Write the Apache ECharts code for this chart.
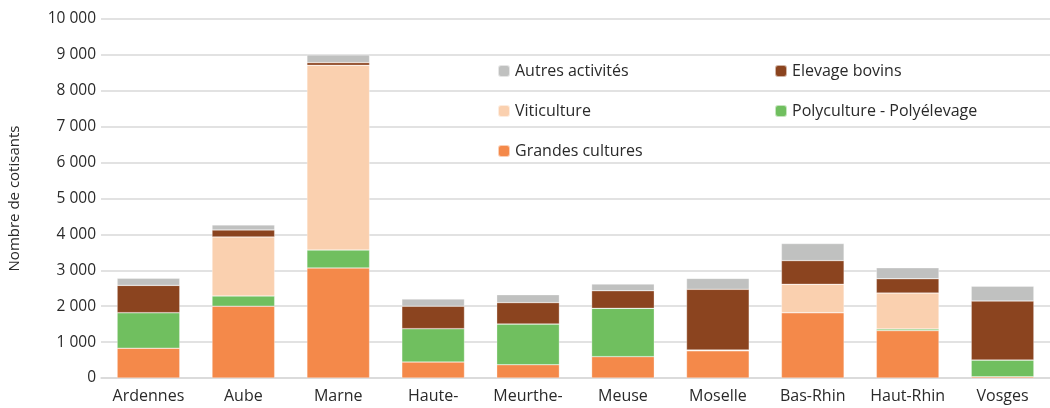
<!DOCTYPE html>
<html>
<head>
<meta charset="utf-8">
<script src="https://cdn.jsdelivr.net/npm/echarts@6/dist/echarts.min.js"></script>
<style>
  html, body { margin: 0; padding: 0; background: #fff; }
  #chart { width: 1050px; height: 408px; }
</style>
</head>
<body>
<div id="chart"></div>
<script>
// départements
var categories = ['Ardennes', 'Aube', 'Marne', 'Haute-\nMarne', 'Meurthe-\net-Moselle', 'Meuse', 'Moselle', 'Bas-Rhin', 'Haut-Rhin', 'Vosges'];

// nombre de cotisants par activité
var grandesCultures = [830, 2000, 3065, 445, 370, 595, 760, 1820, 1320, 35];
var polyculture     = [990, 285, 500, 930, 1135, 1345, 0, 0, 45, 465];
var viticulture     = [0, 1645, 5145, 0, 0, 0, 20, 790, 1000, 0];
var elevageBovins   = [760, 195, 75, 625, 595, 490, 1690, 660, 400, 1645];
var autres          = [200, 140, 215, 200, 220, 185, 305, 475, 305, 410];

var yTicks = [0, 1000, 2000, 3000, 4000, 5000, 6000, 7000, 8000, 9000, 10000];

var myChart = echarts.init(document.getElementById('chart'));

var font = '"Open Sans", Lato, sans-serif';

function serie(name, data, color) {
    return {
        name: name,
        type: 'bar',
        stack: 'total',
        barWidth: '66%',
        data: data,
        itemStyle: { color: color, borderColor: 'rgba(255,255,255,0.6)', borderWidth: 0.5 }
    };
}

var legendText = { fontSize: 16, color: '#2a2a2a', fontFamily: font };

var option = {
    animation: false,
    textStyle: { fontFamily: font },
    grid: { left: 101, right: 0, top: 19, bottom: 30, outerBoundsMode: 'none' },
    legend: [
        {
            data: ['Autres activités', 'Viticulture', 'Grandes cultures'],
            orient: 'vertical',
            left: 492, top: 58,
            itemWidth: 12, itemHeight: 12, itemGap: 24,
            textStyle: legendText
        },
        {
            data: ['Elevage bovins', 'Polyculture - Polyélevage'],
            orient: 'vertical',
            left: 769, top: 58,
            itemWidth: 12, itemHeight: 12, itemGap: 24,
            textStyle: legendText
        }
    ],
    xAxis: {
        type: 'category',
        data: categories,
        axisTick: { show: false },
        axisLine: { lineStyle: { color: '#d9d9d9', width: 1.5 } },
        axisLabel: { fontSize: 16, color: '#2a2a2a', margin: 9, lineHeight: 19, interval: 0 }
    },
    yAxis: {
        type: 'value',
        min: yTicks[0],
        max: yTicks[yTicks.length - 1],
        interval: 1000,
        name: 'Nombre de cotisants',
        nameLocation: 'middle',
        nameGap: 79,
        nameTextStyle: { fontSize: 15, color: '#2a2a2a' },
        axisLabel: {
            fontSize: 15.5, color: '#2a2a2a', margin: 5,
            formatter: function (v) { return v >= 1000 ? Math.floor(v / 1000) + ' 000' : String(v); }
        },
        splitLine: { lineStyle: { color: '#d9d9d9', width: 1.5 } }
    },
    series: [
        serie('Grandes cultures', grandesCultures, '#F4894A'),
        serie('Polyculture - Polyélevage', polyculture, '#70BF5F'),
        serie('Viticulture', viticulture, '#FAD0AF'),
        serie('Elevage bovins', elevageBovins, '#8B441F'),
        serie('Autres activités', autres, '#C0C1C0')
    ]
};

myChart.setOption(option);
</script>
</body>
</html>
